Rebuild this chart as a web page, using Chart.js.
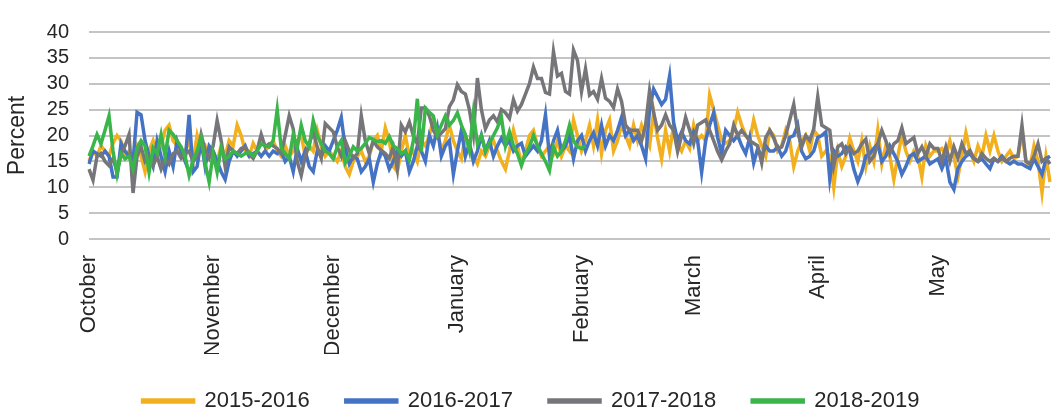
<!DOCTYPE html>
<html lang="en">
<head>
    <meta charset="UTF-8">
    <title>Percent by season, October to May</title>
    <script src="https://cdn.jsdelivr.net/npm/chart.js"></script>
    <style>
        body {
            margin: 0;
            background: #fff;
        }
    </style>
</head>
<body>
    <canvas id="chart" width="1053" height="414"></canvas>
    <script>
        // months on the x axis, one point per day
        const monthNames = ['October', 'November', 'December', 'January', 'February', 'March', 'April', 'May'];
        const monthDays = [31, 30, 31, 31, 28, 31, 30, 29];

        const seasons = ['2015-2016', '2016-2017', '2017-2018', '2018-2019'];
        const colors = ['#F2B01E', '#4472C4', '#76767A', '#3AB54A'];

        // y axis: 0 to 40 in steps of 5
        const yMin = 0;
        const yMax = 40;
        const yStep = 5;

        // daily values (one line per month)
        const s2015 = [
            15, 17, 16, 18, 17, 16, 18.5, 20, 19, 16, 17, 15, 18, 16, 13, 17, 19, 16, 18, 21, 22, 19, 18, 16, 17, 19, 15, 20, 17, 18, 16,
            17, 15, 18, 16, 19, 18, 22, 20, 17, 16, 18.5, 17, 16, 17, 18, 19, 17, 16, 18, 16, 17, 19, 20, 16, 18, 17, 21, 18, 16, 17,
            16, 15, 17, 14, 12.5, 15, 16, 17, 15, 16, 19, 20, 17, 21.5, 19, 14, 13, 17, 20, 16, 17, 15, 19, 18, 20, 23, 21, 17, 19, 22, 19,
            17, 15.5, 20, 18, 16, 14.5, 17, 16, 18, 19, 17, 15, 13.5, 17, 21, 18, 14.5, 17, 20, 21, 18, 16, 17, 18, 16.5, 19, 16, 18, 17, 23, 20,
            17, 19, 22, 18, 23, 16.5, 21, 23, 17, 19, 22, 20, 18, 22, 19, 22, 20, 18, 24.5, 19.5, 15.5, 21, 17, 22, 18.5, 17, 19, 17.5,
            22, 19, 20, 19, 27.8, 25, 22, 19, 18.5, 19, 21, 24.5, 22, 20, 19, 23, 20, 18, 16, 21, 20, 17, 18, 21, 19, 14, 17, 19, 20, 17, 21,
            20, 16, 17, 16, 10, 17, 14, 16, 19.5, 17, 15, 19, 14, 18, 15, 21, 14.5, 18, 16, 11.5, 16, 20, 17, 15, 17, 16, 12, 18, 16, 17,
            17, 17.5, 16, 19, 16, 12, 16, 20.5, 17, 15, 18, 16, 20, 17, 20, 17, 15, 16, 17, 15.5, 16, 20.5, 15, 14, 18, 15, 9, 16, 11
        ];
        const s2016 = [
            14.5, 17, 16.5, 16, 17, 16, 12, 12, 18.5, 17, 16, 15, 24.5, 24, 19, 16, 14, 19, 16, 13, 17, 14, 19, 17, 15, 24, 13, 14, 19, 14, 18,
            17, 15, 13, 11.5, 15, 17, 16, 17, 18, 16, 16.5, 17, 16, 17, 16, 17, 16.5, 17, 15, 16, 13, 17.5, 15, 17, 14, 13, 17, 16, 18, 17,
            19, 21, 23.5, 17.5, 14.5, 16, 15.5, 13, 14, 15.5, 11, 14.5, 17, 16, 13.5, 15, 17, 16, 17, 13, 15, 18, 17, 15, 20, 18, 21.5, 16, 18, 19, 12.5,
            17, 21, 16, 18.5, 15, 17, 20, 17, 19, 16, 18, 19.5, 18, 19, 17, 18, 18.5, 16, 17, 18, 17, 19, 24, 16, 19, 21, 17, 18, 20, 15.5, 19,
            20, 17, 19, 20.5, 18, 22, 18, 20, 19, 21, 23.5, 20, 21, 19, 20, 18, 15.5, 25, 29, 27.5, 26, 27, 31.5, 22.5, 19, 20.7, 19, 18.4,
            20.7, 19, 12.9, 19, 22, 24.4, 19.6, 16.5, 21, 20, 19, 20, 18, 16.5, 19.6, 14.7, 17.5, 16, 18, 17, 17, 17.8, 16, 17, 19.6, 20, 22, 16.9, 15.5, 16, 17,
            19.6, 20, 20.7, 11.6, 17.1, 16, 16.5, 17.8, 17, 13.5, 11.1, 13, 16, 16.5, 17.5, 18.4, 15, 16, 18, 16.5, 15, 12.5, 14, 16, 16.5, 15, 15.5, 16, 14.5, 15,
            15.5, 13.6, 15.5, 11, 9.6, 13.6, 15, 16, 16.5, 15.5, 15, 15.5, 14.5, 13.6, 15.5, 15, 16, 15, 14.5, 15, 14.5, 14.5, 14, 13.6, 15.5, 14, 12.5, 15.5, 16
        ];
        const s2017 = [
            13.5, 11.4, 16, 16.5, 15, 14.2, 15.6, 13, 16.5, 18, 20.2, 8.9, 16, 17.8, 15, 16, 14.2, 16, 13.5, 15.6, 14.5, 16.5, 17, 15.6, 16.5, 17, 15, 16, 20.2, 17.1, 15.6,
            18, 22.9, 19, 14, 17.8, 17, 16.5, 17.5, 17.8, 16.5, 15.6, 17.1, 20.2, 17.8, 18.4, 18, 17.5, 16.5, 20, 23.8, 21.3, 15, 12.3, 16, 18.4, 20.7, 17.8, 15.6, 22.3, 21.5,
            20.7, 17.8, 16, 19, 17, 15.6, 16.5, 23.8, 19, 16.5, 19, 17.8, 17.1, 16.5, 15.6, 17.8, 13.5, 22, 20.7, 22.6, 20, 18.4, 25.3, 25.3, 23.8, 21, 19.6, 20.5, 21.3, 25.6, 26.9,
            29.8, 28.5, 28, 25, 20.2, 31.1, 25, 21.3, 23, 23.8, 22.6, 25, 24.4, 23.3, 26.9, 24.7, 26, 28, 30, 33.2, 31, 31, 28.3, 28, 36.2, 31.5, 32, 28.5, 28, 36.5, 34.5,
            28.5, 32.9, 27.8, 28.5, 27, 31, 27.2, 26.6, 25.4, 29, 26.6, 22, 21, 21, 21, 19, 22, 28.7, 24.4, 21, 22, 24, 22, 21, 16.9, 20, 23.5, 21,
            18.4, 22, 22.5, 23, 21, 19, 16.9, 15.3, 17, 18.4, 22, 20, 21, 20, 19, 18.5, 18, 14.7, 19.6, 21, 19.5, 17.5, 17.8, 20, 23, 26, 20.7, 17.8, 20, 19, 21.3,
            27.5, 22, 21.5, 21, 14.2, 17.8, 18.4, 16.5, 17.8, 16.5, 17, 18.4, 19.3, 15, 16, 18.4, 21, 19, 16.5, 18.4, 19, 21.5, 18.4, 19, 19.6, 16.5, 17.8, 16, 18.4, 17.5,
            17.5, 15, 17.8, 15, 17.8, 15.6, 18.4, 16.5, 17.1, 15.6, 15, 16.5, 15.6, 15, 15.6, 15, 15.6, 15, 15.6, 16, 16, 22, 15, 14.5, 16, 18.4, 15, 15.6, 14.5
        ];
        // 2018-2019 stops at the start of February
        const s2018 = [
            16, 18, 20.2, 18.4, 21, 23.8, 17, 12.5, 16.5, 15.5, 16, 13.5, 17.6, 19, 18, 12.9, 17.6, 16.5, 20.2, 16, 21, 20.2, 19, 17.8, 16, 12.3, 15.3, 17, 19.6, 14.7, 11,
            16.5, 12.9, 17.6, 15.5, 16, 17, 16.5, 16, 16.5, 16.8, 16, 17, 18.4, 18, 17.8, 19, 25, 17.6, 16.5, 15.5, 20.2, 17.6, 22, 19, 17.8, 22.9, 20, 18.4, 17, 16.5,
            15.5, 17.8, 19, 14.7, 16, 17.8, 17, 17.5, 18.5, 19.6, 19.2, 18.8, 19, 18.5, 19.8, 18, 17.5, 16.5, 17, 15.3, 19, 27.1, 16.9, 25.3, 24.5, 23.8, 20.2, 22, 23.8, 22, 22.9,
            24.4, 22, 20.2, 17.1, 24.4, 18.4, 20, 17, 18.5, 20, 21.5, 23.5, 18, 20.7, 18, 16.5, 14.2, 16.5, 17.8, 20, 18, 16.5, 15, 13.2, 17.8, 16, 17, 19, 22, 19, 17.8,
            17.5, 18
        ];
        const seriesValues = [s2015, s2016, s2017, s2018];

        // one label per day, month name shown on the first day
        const labels = [];
        const firstDayLabel = {};
        monthNames.forEach((name, m) => {
            for (let d = 1; d <= monthDays[m]; d++) {
                if (d === 1) firstDayLabel[labels.length] = name;
                labels.push(name + ' ' + d);
            }
        });

        const textColor = '#262626';
        const gridColor = '#C4C4C4';
        Chart.defaults.font.family = "'Liberation Sans', Arial, sans-serif";
        Chart.defaults.color = textColor;

        const datasets = seasons.map((name, i) => ({
            label: name,
            data: seriesValues[i],
            borderColor: colors[i],
            backgroundColor: colors[i],
            borderWidth: 3.5,
            pointRadius: 0,
            tension: 0,
            fill: false,
            order: seasons.length - i   // green on top, gold underneath
        }));

        new Chart(document.getElementById('chart').getContext('2d'), {
            type: 'line',
            data: { labels: labels, datasets: datasets },
            options: {
                responsive: false,
                animation: false,
                layout: {
                    // legend spans the full width, so right padding also centres it
                    padding: { top: 21, right: -9, bottom: -8, left: 0 }
                },
                plugins: {
                    legend: {
                        position: 'bottom',
                        labels: {
                            boxWidth: 51,
                            boxHeight: 2,
                            padding: 36,
                            color: textColor,
                            font: { size: 22 },
                            sort: (a, b) => a.datasetIndex - b.datasetIndex
                        }
                    },
                    tooltip: { enabled: false }
                },
                scales: {
                    x: {
                        grid: { display: false, drawTicks: false },
                        border: { display: false },
                        ticks: {
                            autoSkip: false,
                            minRotation: 90,
                            maxRotation: 90,
                            padding: 16,
                            font: { size: 22 },
                            callback: (value, index) => firstDayLabel[index] || ''
                        },
                        afterFit: (axis) => {
                            axis.height = 115;
                            axis.paddingLeft = 0;
                            axis.paddingRight = 3;
                        }
                    },
                    y: {
                        min: yMin,
                        max: yMax,
                        grid: { color: gridColor, lineWidth: 2, drawTicks: false },
                        border: { display: false },
                        ticks: { stepSize: yStep, autoSkip: false, padding: 20, font: { size: 20 } },
                        title: {
                            display: true,
                            text: 'Percent',
                            font: { size: 23 },
                            padding: { top: 4, bottom: 4 }
                        },
                        afterFit: (axis) => { axis.width = 89; }
                    }
                }
            }
        });
    </script>
</body>
</html>
